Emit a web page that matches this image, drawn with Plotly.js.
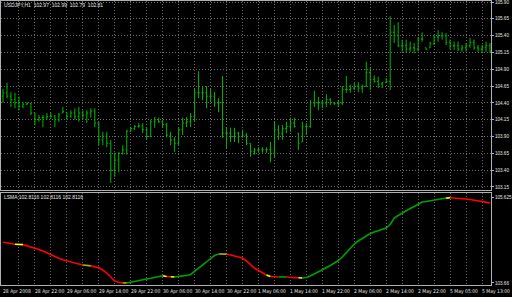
<!DOCTYPE html>
<html><head><meta charset="utf-8">
<script src="https://cdn.plot.ly/plotly-3.0.1.min.js"></script>
<style>html,body{margin:0;padding:0;background:#000;}#c{width:512px;height:297px;}</style>
</head><body><div id="c"></div>
<script>
// ---- data ----
const highs = [104.61,104.70,104.56,104.55,104.49,104.41,104.41,104.40,104.25,104.22,104.22,104.25,104.25,104.22,104.25,104.34,104.26,104.29,104.32,104.34,104.29,104.29,104.32,104.32,104.12,103.97,103.97,103.85,103.66,103.67,103.77,104.00,104.04,104.07,104.10,104.10,104.03,104.15,104.19,104.18,104.15,104.10,103.97,103.89,104.04,104.18,104.19,104.25,104.62,104.87,104.64,104.65,104.62,104.56,104.47,104.80,104.04,104.03,104.03,103.97,104.00,103.95,103.80,103.73,103.74,103.74,103.74,103.82,104.12,104.07,104.07,104.12,104.18,104.18,103.95,104.12,104.10,104.44,104.58,104.49,104.44,104.53,104.47,104.41,104.44,104.65,104.80,104.67,104.70,104.71,104.67,105.01,104.92,104.81,104.79,104.71,104.77,105.69,105.56,105.60,105.34,105.34,105.31,105.29,105.38,105.45,105.22,105.31,105.41,105.48,105.45,105.44,105.34,105.31,105.31,105.26,105.29,105.37,105.34,105.26,105.26,105.31,105.29];
const lows = [104.40,104.47,104.34,104.32,104.29,104.32,104.37,104.22,104.07,104.12,104.04,104.15,104.18,104.04,104.12,104.25,104.15,104.18,104.15,104.12,104.15,104.10,104.18,104.04,103.77,103.77,103.74,103.21,103.30,103.37,103.63,103.63,103.97,104.00,104.03,103.95,103.85,103.89,104.03,104.10,104.04,103.89,103.77,103.67,103.77,103.92,104.04,104.04,104.12,104.47,104.44,104.32,104.41,104.34,104.26,103.88,103.73,103.82,103.82,103.80,103.88,103.77,103.60,103.63,103.66,103.66,103.66,103.52,103.58,103.85,103.85,103.95,103.97,104.03,103.70,103.82,103.92,104.03,104.34,104.29,104.32,104.34,104.37,104.37,104.34,104.37,104.55,104.55,104.59,104.56,104.55,104.64,104.59,104.70,104.62,104.62,104.70,104.59,105.29,105.23,105.16,105.14,105.16,105.14,105.16,105.31,105.19,105.22,105.26,105.31,105.34,105.26,105.19,105.19,105.17,105.16,105.16,105.22,105.19,105.16,105.14,105.16,105.14];
const opens = [104.50,104.55,104.50,104.45,104.40,104.35,104.38,104.39,104.25,104.15,104.18,104.18,104.20,104.20,104.15,104.25,104.26,104.20,104.25,104.20,104.25,104.22,104.25,104.28,104.10,103.85,103.90,103.80,103.40,103.55,103.65,103.70,103.98,104.02,104.05,104.06,104.00,103.90,104.12,104.15,104.12,104.08,103.92,103.85,103.80,104.00,104.10,104.12,104.20,104.55,104.55,104.55,104.50,104.50,104.40,104.40,103.95,103.95,103.90,103.95,103.90,103.92,103.80,103.68,103.70,103.70,103.70,103.71,103.65,104.00,103.95,104.02,104.05,104.10,103.95,103.82,104.05,104.05,104.40,104.40,104.40,104.40,104.45,104.40,104.39,104.40,104.60,104.60,104.62,104.65,104.62,104.65,104.85,104.75,104.72,104.68,104.70,104.72,105.45,105.40,105.25,105.25,105.20,105.22,105.20,105.35,105.22,105.22,105.28,105.38,105.40,105.40,105.30,105.25,105.25,105.20,105.22,105.25,105.30,105.22,105.20,105.22,105.25];
const closes = [104.55,104.50,104.45,104.40,104.35,104.38,104.39,104.25,104.15,104.18,104.18,104.20,104.20,104.15,104.22,104.27,104.20,104.25,104.20,104.25,104.22,104.25,104.28,104.10,103.85,103.90,103.80,103.40,103.55,103.65,103.70,103.98,104.02,104.05,104.06,104.00,103.90,104.12,104.15,104.12,104.08,103.92,103.85,103.80,104.00,104.10,104.12,104.20,104.55,104.55,104.55,104.50,104.50,104.40,104.40,103.95,103.95,103.90,103.95,103.90,103.92,103.80,103.68,103.70,103.70,103.70,103.71,103.65,104.00,103.95,104.02,104.05,104.10,104.05,103.80,104.05,104.05,104.40,104.40,104.40,104.40,104.45,104.40,104.39,104.40,104.60,104.60,104.62,104.65,104.62,104.65,104.85,104.75,104.72,104.68,104.70,104.72,105.45,105.40,105.25,105.25,105.20,105.22,105.20,105.35,105.35,105.20,105.28,105.38,105.40,105.40,105.30,105.25,105.25,105.20,105.22,105.25,105.30,105.22,105.20,105.22,105.25,105.17];
const lsma = [104.600,104.581,104.565,104.551,104.551,104.544,104.519,104.491,104.466,104.432,104.397,104.351,104.305,104.259,104.229,104.197,104.167,104.144,104.120,104.097,104.074,104.065,104.054,104.033,104.010,103.959,103.890,103.798,103.706,103.678,103.660,103.662,103.683,103.701,103.717,103.736,103.752,103.768,103.786,103.809,103.828,103.809,103.803,103.798,103.805,103.821,103.835,103.856,103.925,103.994,104.063,104.144,104.224,104.293,104.328,104.330,104.326,104.305,104.282,104.270,104.236,104.167,104.086,104.005,103.948,103.890,103.844,103.809,103.798,103.800,103.802,103.800,103.786,103.782,103.780,103.775,103.786,103.821,103.867,103.913,103.959,104.005,104.063,104.120,104.178,104.259,104.362,104.478,104.558,104.627,104.685,104.743,104.800,104.835,104.865,104.892,104.927,105.008,105.157,105.215,105.273,105.330,105.376,105.422,105.480,105.526,105.537,105.549,105.565,105.579,105.600,105.615,105.625,105.621,105.614,105.605,105.596,105.583,105.569,105.555,105.540,105.524,105.506];
// colour of each LSMA segment, as runs: [colour key, number of segments]
const lsmaRuns = [['r',3],['y',2],['r',15],['o',2],['r',8],['o',1],['g',9],['y',1],['r',1],['y',1],['g',11],['o',2],['r',10],['y',1],['r',2],['g',2],['r',3],['y',1],['g',36],['y',1],['r',10]];
const priceTicks = [103.15,103.40,103.65,103.90,104.15,104.40,104.65,104.90,105.15,105.40,105.65,105.90];
const lsmaTicks = [103.66,105.625];
const lsmaTickText = ['103.66','105.625'];
const timeLabelIdx = [0,8,16,24,32,40,48,56,64,72,80,88,96,104,112,120];
const timeLabels = ['28 Apr 2008','28 Apr 22:00','29 Apr 06:00','29 Apr 14:00','29 Apr 22:00','30 Apr 06:00','30 Apr 14:00','30 Apr 22:00','1 May 06:00','1 May 14:00','1 May 22:00','2 May 06:00','2 May 14:00','2 May 22:00','5 May 05:00','5 May 13:00'];
const headerMain = 'USDJPY,H1  102.97  102.99  102.79  102.81';
const headerLsma = 'LSMA 102.8116 102.8116 102.8116';

// ---- styles ----
const colorMap = {r:'#ff0000', g:'#00a000', y:'#ffff00', o:'#b0b000'};
const barColor = '#00b800';
const gridColor = '#6a6a6a';
const borderColor = '#b0b0b0';
const txtColor = '#e6e6e6';
const fnt = 'Liberation Sans, Arial, sans-serif';
const fntNarrow = 'Liberation Sans Narrow, DejaVu Sans Condensed, Liberation Sans, sans-serif';

const idx = highs.map((_, i) => i);
const gridIdx = idx.filter(i => i > 0 && i % 4 === 0);

const traces = [{
  type: 'ohlc', x: idx, open: opens, high: highs, low: lows, close: closes,
  xaxis: 'x', yaxis: 'y', tickwidth: 0.3,
  increasing: {line: {color: barColor, width: 1}},
  decreasing: {line: {color: barColor, width: 1}},
  hoverinfo: 'skip', showlegend: false
}];

// LSMA coloured segments
const segX = {}, segY = {};
let s = 0;
lsmaRuns.forEach(([c, n]) => {
  if (!segX[c]) { segX[c] = []; segY[c] = []; }
  for (let i = s; i <= s + n; i++) { segX[c].push(idx[i]); segY[c].push(lsma[i]); }
  segX[c].push(null); segY[c].push(null);
  s += n;
});
Object.keys(segX).forEach(c => {
  traces.push({type: 'scatter', mode: 'lines', x: segX[c], y: segY[c], xaxis: 'x2', yaxis: 'y2',
    line: {color: colorMap[c], width: 1.6}, connectgaps: false, hoverinfo: 'skip', showlegend: false});
});

const xBase = {
  range: [-0.5, 122.25], tickvals: gridIdx, showticklabels: false, ticks: '',
  showgrid: true, gridcolor: gridColor, griddash: '1px,2px', gridwidth: 1,
  showline: true, mirror: true, linecolor: borderColor, linewidth: 1, zeroline: false,
  domain: [1/512, 491/512], fixedrange: true
};

const annotations = timeLabelIdx.map((ix, k) => ({
  x: ix, xref: 'x2', y: 0.0185, yref: 'paper', text: timeLabels[k], showarrow: false,
  xanchor: 'left', yanchor: 'middle', xshift: -2, font: {family: fntNarrow, size: 5, color: txtColor}
}));
annotations.push({x: 2/512, xref: 'paper', y: 0.982, yref: 'paper', text: headerMain, showarrow: false,
  xanchor: 'left', yanchor: 'middle', font: {family: fnt, size: 5, color: txtColor}});
annotations.push({x: 2/512, xref: 'paper', y: 0.337, yref: 'paper', text: headerLsma, showarrow: false,
  xanchor: 'left', yanchor: 'middle', font: {family: fnt, size: 5, color: txtColor}});

const layout = {
  width: 512, height: 297, margin: {l: 0, r: 0, t: 0, b: 0},
  paper_bgcolor: '#000000', plot_bgcolor: '#000000', showlegend: false,
  xaxis: Object.assign({}, xBase, {anchor: 'y', rangeslider: {visible: false}}),
  xaxis2: Object.assign({}, xBase, {anchor: 'y2', matches: 'x'}),
  yaxis: {
    domain: [0.36027, 0.99663], range: [103.105, 105.915], side: 'right',
    tickvals: priceTicks, ticktext: priceTicks.map(v => v.toFixed(2)), ticklabeloverflow: 'allow',
    tickfont: {family: fnt, size: 4.6, color: txtColor}, ticks: 'outside', ticklen: 2, tickcolor: borderColor,
    showgrid: true, gridcolor: gridColor, griddash: '1px,2px', zeroline: false,
    showline: true, mirror: true, linecolor: borderColor, linewidth: 1, fixedrange: true, automargin: false
  },
  yaxis2: {
    domain: [0.04040, 0.35017], range: [103.614, 105.733], side: 'right',
    tickvals: lsmaTicks, ticktext: lsmaTickText, ticklabeloverflow: 'allow',
    tickfont: {family: fnt, size: 4.6, color: txtColor}, ticks: 'outside', ticklen: 2, tickcolor: borderColor,
    showgrid: false, zeroline: false,
    showline: true, mirror: true, linecolor: borderColor, linewidth: 1, fixedrange: true, automargin: false
  },
  annotations: annotations
};

Plotly.newPlot('c', traces, layout, {staticPlot: true, displayModeBar: false});
</script>
</body></html>
